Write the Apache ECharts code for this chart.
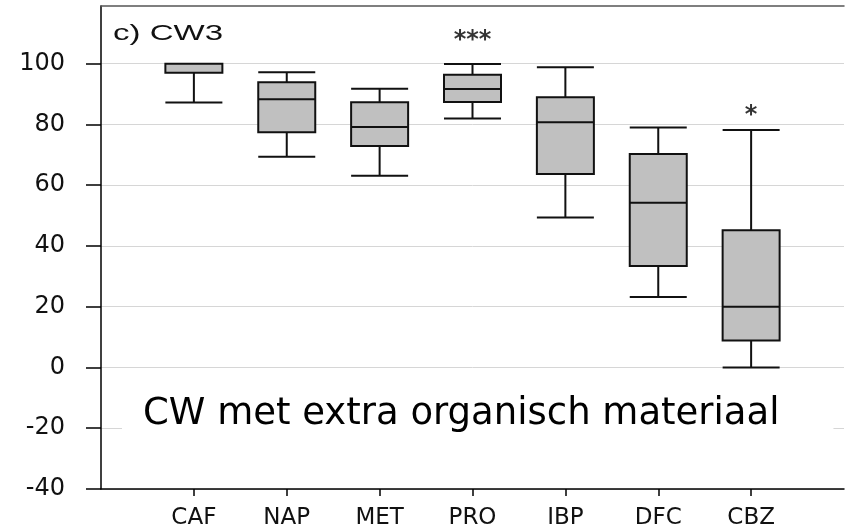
<!DOCTYPE html>
<html lang="nl">
<head>
  <meta charset="UTF-8">
  <title>CW3</title>
  <script src="https://cdn.jsdelivr.net/npm/echarts@6/dist/echarts.min.js"></script>
  <style>
    * {
      margin: 0;
      padding: 0
    }

    html, body {
      width: 100%;
      height: 100%;
      background: #fff;
    }

    #main {
      width: 847px;
      height: 530px;
    }
  </style>
</head>
<body>
<div id="main"></div>
<script type="text/javascript">
  // categorieen, met een lege plaats links en rechts
  var categories = ['', 'CAF', 'NAP', 'MET', 'PRO', 'IBP', 'DFC', 'CBZ', ''];
  var names = ['CAF', 'NAP', 'MET', 'PRO', 'IBP', 'DFC', 'CBZ'];
  var minValues = [87.2, 69.4, 63.1, 82.0, 49.4, 23.2, 0];
  var q1Values = [97.0, 77.4, 72.9, 87.4, 63.7, 33.4, 8.9];
  var medianValues = [100, 88.3, 79.2, 91.7, 80.7, 54.2, 20.0];
  var q3Values = [100, 93.9, 87.3, 96.4, 89.0, 70.3, 45.2];
  var maxValues = [100, 97.2, 91.8, 99.9, 98.8, 79.0, 78.2];
  var yTicks = [-40, -20, 0, 20, 40, 60, 80, 100];
  // significantie sterretjes
  var signifNames = ['PRO', 'CBZ'];
  var signifY = [107.5, 83];
  var signifText = ['***', '*'];

  var boxData = [];
  for (var i = 0; i < names.length; i++) {
    boxData.push([names[i], minValues[i], q1Values[i], medianValues[i], q3Values[i], maxValues[i]]);
  }
  var signifData = [];
  for (var j = 0; j < signifNames.length; j++) {
    signifData.push({value: [signifNames[j], signifY[j]], label: {formatter: signifText[j]}});
  }

  var chart = echarts.init(document.getElementById('main'));
  chart.setOption({
    animation: false,
    grid: {left: 101, right: -14, top: 6, bottom: 41},
    xAxis: [{
      type: 'category',
      data: categories,
      boundaryGap: false,
      axisLine: {onZero: false, lineStyle: {color: '#000', width: 1.5}},
      axisTick: {
        length: 7,
        interval: function (index) { return index > 0 && index < 8; },
        lineStyle: {color: '#000', width: 1.5}
      },
      axisLabel: {interval: 0, margin: 18, fontSize: 23, color: '#111', fontFamily: 'DejaVu Sans'},
      splitLine: {show: false}
    }, {
      type: 'category',
      position: 'top',
      data: categories,
      boundaryGap: false,
      axisLine: {onZero: false, lineStyle: {color: '#555', width: 1.5}},
      axisTick: {show: false},
      axisLabel: {show: false},
      splitLine: {show: false}
    }],
    yAxis: {
      type: 'value',
      min: -40,
      max: 119,
      interval: 20,
      axisLine: {show: true, lineStyle: {color: '#000', width: 1.5}},
      axisTick: {show: true, length: 15, customValues: yTicks, lineStyle: {color: '#000', width: 1.5}},
      axisLabel: {customValues: yTicks, margin: 36, fontSize: 24, color: '#111', fontFamily: 'DejaVu Sans'},
      splitLine: {lineStyle: {color: '#d6d6d6', width: 1}}
    },
    graphic: [{
      type: 'text',
      x: 113,
      y: 34,
      scaleX: 1.5,
      z: 100,
      style: {text: 'c) CW3', font: '22px "Liberation Sans"', fill: '#111', verticalAlign: 'middle'}
    }, {
      type: 'text',
      x: 122,
      y: 414,
      z: 100,
      style: {
        text: 'CW met extra organisch materiaal',
        font: '37px "DejaVu Sans"',
        fill: '#000',
        verticalAlign: 'middle',
        backgroundColor: '#fff',
        padding: [6, 54, 6, 21]
      }
    }],
    series: [{
      type: 'boxplot',
      encode: {x: 0, y: [1, 2, 3, 4, 5]},
      data: boxData,
      boxWidth: [57, 57],
      silent: true,
      itemStyle: {color: '#c0c0c0', borderColor: '#111', borderWidth: 2}
    }, {
      type: 'scatter',
      data: signifData,
      symbolSize: 1,
      silent: true,
      itemStyle: {color: 'rgba(0,0,0,0)'},
      label: {show: true, position: 'inside', fontSize: 24, fontWeight: 'bold', color: '#000', fontFamily: 'DejaVu Sans'}
    }]
  });
</script>
</body>
</html>
